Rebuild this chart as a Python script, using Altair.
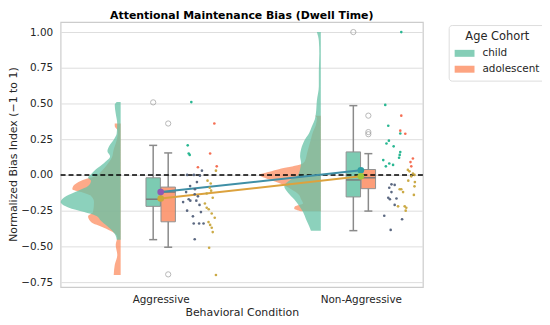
import altair as alt
import pandas as pd

FONT = "DejaVu Sans"
INK = "#262626"

groups = ["child", "adolescent"]
conditions = ["Aggressive", "Non-Aggressive"]
group_colors = ["#66c2a5", "#fc8d62"]

# ---- half-violin profiles: bias value and relative density ----
agg_child_v = [0.51, 0.49, 0.43, 0.36, 0.29, 0.25, 0.20, 0.166, 0.13, 0.084, 0.04, 0.004, -0.02, -0.04,
               -0.077, -0.11, -0.147, -0.19, -0.228, -0.26, -0.286, -0.32, -0.38, -0.425, -0.453]
agg_child_d = [4, 6, 5, 3.5, 4, 6.7, 11.7, 13.4, 10.7, 16.7, 25, 30, 33, 30, 33, 43, 55, 60.7, 53, 37, 25,
               20, 10, 5, 4]
agg_adol_v = [0.36, 0.34, 0.31, 0.29, 0.22, 0.18, 0.12, 0.07, 0.022, 0.0, -0.04, -0.077, -0.10, -0.12,
              -0.147, -0.19, -0.26, -0.29, -0.33, -0.37, -0.40, -0.435, -0.49, -0.56, -0.63, -0.70]
agg_adol_d = [6, 6, 3, 3, 5, 7, 9, 14, 20, 23, 40, 48, 49, 40, 30, 27, 28, 33, 30, 17, 8, 3.4, 5, 3.4, 6, 7]
non_child_v = [1.0, 0.94, 0.85, 0.73, 0.62, 0.52, 0.43, 0.39, 0.34, 0.29, 0.26, 0.22, 0.18, 0.13, 0.085,
               0.04, 0.0, -0.03, -0.08, -0.126, -0.17, -0.216, -0.26, -0.31, -0.356, -0.39]
non_child_d = [4, 2, 1.5, 2, 2, 4, 5, 6, 9, 12, 15, 18, 20, 21, 20, 21, 23, 30, 37, 33, 27, 22, 18, 15, 12, 10]
non_adol_v = [0.415, 0.40, 0.35, 0.30, 0.25, 0.20, 0.15, 0.10, 0.075, 0.045, 0.02, 0.0, -0.02, -0.055,
              -0.10, -0.14, -0.17, -0.20, -0.22, -0.235, -0.254]
non_adol_d = [6, 4, 5, 8, 10, 12, 14, 16, 20, 40, 53, 62, 57, 43, 30, 22, 20, 18, 26, 27, 20]

# ---- box statistics (cond order: Aggressive, Non-Aggressive) ----
child_lo = [-0.453, -0.39]
child_q1 = [-0.22, -0.154]
child_med = [-0.17, -0.035]
child_q3 = [-0.02, 0.161]
child_hi = [0.207, 0.485]
adol_lo = [-0.506, -0.253]
adol_q1 = [-0.328, -0.096]
adol_med = [-0.12, -0.02]
adol_q3 = [-0.085, 0.038]
adol_hi = [0.154, 0.149]

out_cond = [0, 0, 0, 1, 1, 1, 1]
out_group = ["child", "adolescent", "adolescent", "child", "adolescent", "adolescent", "adolescent"]
out_val = [0.508, 0.36, -0.696, 1.0, 0.415, 0.30, 0.285]

# ---- group means ----
child_mean = [-0.12, 0.033]
adol_mean = [-0.165, -0.01]

# ---- raw points (value, horizontal jitter position within the category) ----
agg_child_pts = [0.51, 0.207, 0.15, 0.14, 0.03, 0.0, 0.0, -0.005, -0.05, -0.078, -0.10, -0.12, -0.135, -0.15,
                 -0.17, -0.18, -0.18, -0.19, -0.21, -0.25, -0.26, -0.29, -0.34, -0.34, -0.34, -0.45]
agg_child_jit = [0.153, 0.135, 0.140, 0.145, 0.206, 0.132, 0.166, 0.196, 0.181, 0.147, 0.171, 0.127, 0.170,
                 0.186, 0.140, 0.148, 0.178, 0.112, 0.194, 0.132, 0.201, 0.161, 0.165, 0.192, 0.214, 0.170]
agg_adol_pts = [0.36, 0.15, 0.054, 0.06, 0.03, -0.04, -0.06, -0.09, -0.11, -0.13, -0.16, -0.20, -0.23, -0.24,
                -0.27, -0.30, -0.33, -0.35, -0.37, -0.40, -0.51, -0.70]
agg_adol_jit = [0.268, 0.247, 0.186, 0.280, 0.276, 0.234, 0.250, 0.245, 0.252, 0.230, 0.260, 0.221, 0.230,
                0.240, 0.255, 0.270, 0.239, 0.247, 0.255, 0.260, 0.242, 0.276]
non_child_pts = [1.0, 0.49, 0.344, 0.29, 0.24, 0.22, 0.20, 0.16, 0.14, 0.12, 0.104, 0.08, 0.07, 0.06, -0.066,
                 -0.07, -0.09, -0.12, -0.16, -0.17, -0.165, -0.21, -0.286, -0.31, -0.385]
non_child_jit = [0.202, 0.122, 0.137, 0.197, 0.140, 0.128, 0.164, 0.197, 0.194, 0.191, 0.112, 0.142, 0.161,
                 0.125, 0.153, 0.169, 0.142, 0.153, 0.137, 0.145, 0.178, 0.169, 0.117, 0.206, 0.149]
non_adol_pts = [0.415, 0.31, 0.288, 0.115, 0.09, 0.06, 0.035, 0.025, 0.01, 0.0, -0.01, -0.04, -0.05, -0.08,
                -0.10, -0.10, -0.12, -0.14, -0.22, -0.22, -0.23, -0.25]
non_adol_jit = [0.202, 0.197, 0.222, 0.260, 0.248, 0.252, 0.235, 0.243, 0.260, 0.268, 0.252, 0.237, 0.270,
                0.268, 0.202, 0.194, 0.211, 0.265, 0.186, 0.219, 0.227, 0.224]

# ---------------- layout constants ----------------
VIOLIN_BASE = -0.2
DENS_SCALE = 1 / 202.7
DODGE = 0.0375
HALF_BOX = 0.036
CAP = 0.02

# ---------------- tables ----------------
def prof(cond, group, vs, ds):
    return pd.DataFrame({"group": group, "v": vs,
                         "x1": [cond + VIOLIN_BASE - d * DENS_SCALE for d in ds],
                         "x2": [cond + VIOLIN_BASE] * len(vs)}).sort_values("v")

box = pd.DataFrame({
    "group": ["child", "child", "adolescent", "adolescent"],
    "cond": [0, 1, 0, 1],
    "lo": child_lo + adol_lo, "q1": child_q1 + adol_q1, "med": child_med + adol_med,
    "q3": child_q3 + adol_q3, "hi": child_hi + adol_hi,
})
box["c"] = box["cond"] + box["group"].map({"child": -DODGE, "adolescent": DODGE})
box["l"] = box["c"] - HALF_BOX
box["r"] = box["c"] + HALF_BOX
box["cl"] = box["c"] - CAP
box["cr"] = box["c"] + CAP

outl = pd.DataFrame({"cond": out_cond, "group": out_group, "v": out_val})
outl["c"] = outl["cond"] + outl["group"].map({"child": -DODGE, "adolescent": DODGE})

means = pd.DataFrame({"cond": [0, 1, 0, 1], "group": ["child", "child", "adolescent", "adolescent"],
                      "v": child_mean + adol_mean})
means["key"] = means["group"] + means["cond"].astype(str)

def pts(cond, group, vs, js, thr):
    df = pd.DataFrame({"v": vs, "x": [cond + j for j in js]})
    df["tone"] = [group + ("-hi" if v > thr else "-lo") for v in vs]
    return df

points = pd.concat([
    pts(0, "child", agg_child_pts, agg_child_jit, 0.05),
    pts(1, "child", non_child_pts, non_child_jit, 0.05),
    pts(0, "adolescent", agg_adol_pts, agg_adol_jit, 0.045),
    pts(1, "adolescent", non_adol_pts, non_adol_jit, 0.045),
])

# ---------------- scales / axes ----------------
xs = alt.Scale(domain=[-0.5, 1.31], nice=False, zero=False)
ys = alt.Scale(domain=[-0.785, 1.07], nice=False, zero=False)

x_axis = alt.Axis(values=[0, 1],
                  labelExpr="datum.value == 0 ? '%s' : '%s'" % (conditions[0], conditions[1]),
                  title="Behavioral Condition", grid=False, ticks=False, domain=False, labelOverlap=False,
                  labelFont=FONT, labelFontSize=10.5, labelColor=INK, labelPadding=8,
                  titleFont=FONT, titleFontSize=11, titleFontWeight="normal", titleColor=INK,
                  titleY=26, titleBaseline="middle")
y_axis = alt.Axis(values=[-0.75, -0.5, -0.25, 0, 0.25, 0.5, 0.75, 1.0], format=".2f",
                  title="Normalized Bias Index (\u22121 to 1)", grid=True, gridColor="#dedede", gridWidth=1,
                  ticks=False, domain=False, labelOverlap=False,
                  labelFont=FONT, labelFontSize=10.5, labelColor=INK, labelPadding=8,
                  titleFont=FONT, titleFontSize=11, titleFontWeight="normal", titleColor=INK,
                  titleAngle=270, titleX=-47, titleY=133, titleBaseline="middle", titleAlign="center")


def X(field):
    return alt.X(field, scale=xs, axis=x_axis)


def Y(field):
    return alt.Y(field, scale=ys, axis=y_axis)


legend = alt.Legend(title="Age Cohort", orient="none", legendX=391, legendY=3, direction="vertical",
                    titleFont=FONT, titleFontSize=11.5, titleFontWeight="normal", titleColor=INK,
                    titleAnchor="middle", titlePadding=1,
                    labelFont=FONT, labelFontSize=10.5, labelColor=INK, labelOffset=8,
                    symbolType="M-1,-0.35L1,-0.35L1,0.35L-1,0.35Z", symbolSize=400,
                    symbolOpacity=0.8, symbolStrokeWidth=0, rowPadding=-6,
                    padding=6, fillColor="white", strokeColor="#dddddd", cornerRadius=3)

# ---------------- layers ----------------
def half_violin(df, color):
    return alt.Chart(df).mark_area(orient="horizontal", opacity=0.75, color=color,
                                   interpolate="monotone").encode(y=Y("v:Q"), x=X("x1:Q"), x2="x2:Q")

v1 = half_violin(prof(0, "adolescent", agg_adol_v, agg_adol_d), group_colors[1])
v2 = half_violin(prof(1, "adolescent", non_adol_v, non_adol_d), group_colors[1])
v3 = half_violin(prof(0, "child", agg_child_v, agg_child_d), group_colors[0])
v4 = half_violin(prof(1, "child", non_child_v, non_child_d), group_colors[0])

legend_src = alt.Chart(pd.DataFrame({"group": groups, "v": [0.0, 0.0]})).mark_point(
    filled=True, size=0, shape="square").encode(
    color=alt.Color("group:N", scale=alt.Scale(domain=groups, range=group_colors), legend=legend),
    y=Y("v:Q"),
)

grey = "#8a8a8a"
boxes = alt.Chart(box).mark_rect(opacity=0.85, stroke="#7f7f7f", strokeWidth=1).encode(
    x=X("l:Q"), x2="r:Q", y=Y("q1:Q"), y2="q3:Q",
    fill=alt.Fill("group:N", scale=alt.Scale(domain=groups, range=group_colors), legend=None),
)
wh_up = alt.Chart(box).mark_rule(color=grey, strokeWidth=1.5).encode(x=X("c:Q"), y=Y("q3:Q"), y2="hi:Q")
wh_dn = alt.Chart(box).mark_rule(color=grey, strokeWidth=1.5).encode(x=X("c:Q"), y=Y("lo:Q"), y2="q1:Q")
cap_up = alt.Chart(box).mark_rule(color=grey, strokeWidth=1.5).encode(x=X("cl:Q"), x2="cr:Q", y=Y("hi:Q"))
cap_dn = alt.Chart(box).mark_rule(color=grey, strokeWidth=1.5).encode(x=X("cl:Q"), x2="cr:Q", y=Y("lo:Q"))
med = alt.Chart(box).mark_rule(color="#7a7a7a", strokeWidth=1.5).encode(x=X("l:Q"), x2="r:Q", y=Y("med:Q"))
outs = alt.Chart(outl).mark_point(shape="circle", filled=False, color="#9a9a9a", size=28, strokeWidth=1).encode(
    x=X("c:Q"), y=Y("v:Q"))

zero = alt.Chart(pd.DataFrame({"v": [0.0]})).mark_rule(color="black", strokeWidth=1.4, strokeDash=[5, 3]).encode(
    y=Y("v:Q"))

mline = alt.Chart(means).mark_line(strokeWidth=2).encode(
    x=X("cond:Q"), y=Y("v:Q"),
    color=alt.Color("group:N", scale=alt.Scale(domain=groups, range=["#3f8fa6", "#dca23e"]), legend=None),
)
mdot = alt.Chart(means).mark_circle(size=45, opacity=1).encode(
    x=X("cond:Q"), y=Y("v:Q"),
    color=alt.Color("key:N", scale=alt.Scale(domain=["child0", "child1", "adolescent0", "adolescent1"],
                                             range=["#8f58b4", "#2e9ea3", "#c9aa3a", "#9ec83c"]), legend=None),
)
strip = alt.Chart(points).mark_circle(size=7, opacity=0.95).encode(
    x=X("x:Q"), y=Y("v:Q"),
    color=alt.Color("tone:N", scale=alt.Scale(domain=["child-hi", "child-lo", "adolescent-hi", "adolescent-lo"],
                                              range=["#1db38c", "#52607a", "#f4664a", "#c8a53c"]), legend=None),
)

chart = alt.layer(v1, v2, v3, v4, legend_src, boxes, wh_up, wh_dn, cap_up, cap_dn, med, outs, zero,
                  mline, mdot, strip
).resolve_scale(color="independent", fill="independent").properties(
    width=365, height=267,
    autosize=alt.AutoSizeParams(type="none"),
    padding={"left": 53, "top": 13, "right": 120, "bottom": 33},
    background="white",
    title=alt.TitleParams("Attentional Maintenance Bias (Dwell Time)", font=FONT, fontSize=11,
                          fontWeight="bold", color="black", anchor="middle", offset=1),
).configure_view(stroke="#cccccc", strokeWidth=1.2)

chart.save("out.html", embed_options={"renderer": "svg", "actions": False})
